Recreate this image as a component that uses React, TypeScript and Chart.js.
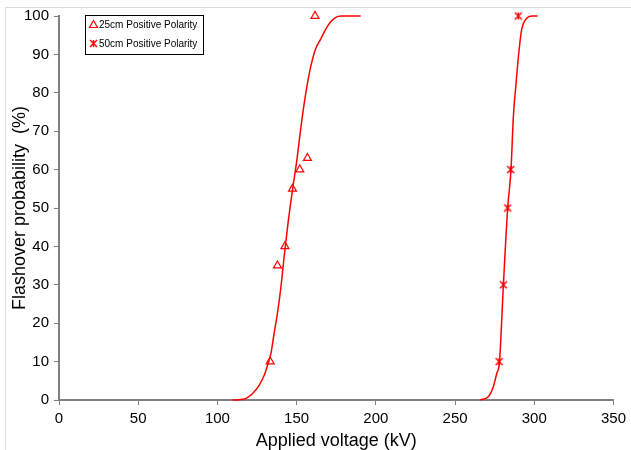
import React, { useEffect, useRef } from "react";
import { Chart, registerables } from "chart.js";

Chart.register(...registerables);

// ---- data ----
const xTicks = [0, 50, 100, 150, 200, 250, 300, 350];
const yTicks = [0, 10, 20, 30, 40, 50, 60, 70, 80, 90, 100];
const seriesNames = ["25cm Positive Polarity", "50cm Positive Polarity"];

// measured points
const v25 = [133.3, 137.9, 142.6, 147.4, 152.0, 156.8, 161.6];
const p25 = [10, 35, 40, 55, 60, 63, 100];
const v50 = [277.8, 280.5, 283.2, 285.1, 289.9];
const p50 = [10, 30, 50, 60, 100];

// fitted curves
const fit25V = [109.6, 117, 122.2, 126.4, 129.6, 131.7, 133.8, 135.8, 137.9, 140.1, 142.3, 144.7, 147.4, 150.3, 153, 156, 159, 162, 165.2, 168.4, 171.5, 174.5, 178, 190.4];
const fit25P = [0, 0.26, 1.7, 3.9, 6.5, 9.1, 12.2, 17.4, 22.6, 29.5, 38, 46.5, 54.7, 63, 72, 80.5, 87, 91.5, 94, 96.6, 98.5, 99.6, 100, 100];
const fit50V = [265.8, 271.1, 274.2, 276.3, 278, 280.5, 283.2, 285.3, 286.8, 288.5, 290.4, 292, 295.2, 298.3, 302.1];
const fit50P = [0, 0.9, 3.5, 6.9, 9.8, 29.9, 49.9, 59.9, 73.8, 82.5, 91.1, 96.4, 99.4, 100, 100];

const RED = "#ff0000";
const FONT = "'Liberation Sans', Arial, sans-serif";

function makeStar(size: number, color: string): HTMLCanvasElement {
  const c = document.createElement("canvas");
  c.width = size;
  c.height = size;
  const ctx = c.getContext("2d")!;
  ctx.strokeStyle = color;
  ctx.lineWidth = 1.4;
  const m = 1;
  ctx.beginPath();
  ctx.moveTo(m, m);
  ctx.lineTo(size - m, size - m);
  ctx.moveTo(size - m, m);
  ctx.lineTo(m, size - m);
  ctx.moveTo(size / 2, m);
  ctx.lineTo(size / 2, size - m);
  ctx.stroke();
  return c;
}

const pairs = (xs: number[], ys: number[]) => xs.map((x, i) => ({ x, y: ys[i] }));

export default function App() {
  const ref = useRef<HTMLCanvasElement | null>(null);

  useEffect(() => {
    if (!ref.current) return;
    const star = makeStar(9, RED);

    const framePlugin = {
      id: "frame",
      beforeDraw(chart: any) {
        const ctx = chart.ctx;
        ctx.save();
        ctx.strokeStyle = "#d9d9d9";
        ctx.lineWidth = 1;
        ctx.beginPath();
        ctx.moveTo(5.5, 460);
        ctx.lineTo(5.5, 7.5);
        ctx.lineTo(640, 7.5);
        ctx.stroke();
        ctx.restore();
      },
    };

    const legendPlugin = {
      id: "boxLegend",
      afterDraw(chart: any) {
        const ctx = chart.ctx;
        ctx.save();
        ctx.fillStyle = "#ffffff";
        ctx.fillRect(85, 15, 119, 40);
        ctx.strokeStyle = "#000000";
        ctx.lineWidth = 1;
        ctx.strokeRect(85.5, 15.5, 118, 39);
        // triangle marker
        ctx.strokeStyle = RED;
        ctx.lineWidth = 1.2;
        ctx.beginPath();
        ctx.moveTo(93.5, 20.5);
        ctx.lineTo(97.5, 27.5);
        ctx.lineTo(89.5, 27.5);
        ctx.closePath();
        ctx.stroke();
        ctx.drawImage(star, 89, 39);
        ctx.fillStyle = "#000000";
        ctx.font = `10px ${FONT}`;
        ctx.textBaseline = "middle";
        ctx.textAlign = "left";
        ctx.fillText(seriesNames[0], 99, 25);
        ctx.fillText(seriesNames[1], 99, 44);
        ctx.restore();
      },
    };

    const chart = new Chart(ref.current, {
      type: "scatter",
      data: {
        datasets: [
          {
            label: seriesNames[0] + " fit",
            data: pairs(fit25V, fit25P),
            showLine: true,
            borderColor: RED,
            borderWidth: 1.5,
            pointRadius: 0,
            cubicInterpolationMode: "monotone",
            fill: false,
            clip: false,
          },
          {
            label: seriesNames[1] + " fit",
            data: pairs(fit50V, fit50P),
            showLine: true,
            borderColor: RED,
            borderWidth: 1.5,
            pointRadius: 0,
            cubicInterpolationMode: "monotone",
            fill: false,
            clip: false,
          },
          {
            label: seriesNames[0],
            data: pairs(v25, p25),
            showLine: false,
            pointStyle: "triangle",
            pointRadius: 4.6,
            borderColor: RED,
            backgroundColor: "rgba(255,255,255,0)",
            borderWidth: 1.2,
            clip: false,
          },
          {
            label: seriesNames[1],
            data: pairs(v50, p50),
            showLine: false,
            pointStyle: star as any,
            pointRadius: 4.5,
            borderColor: RED,
            backgroundColor: RED,
            clip: false,
          },
        ],
      },
      options: {
        responsive: false,
        animation: false,
        devicePixelRatio: 1,
        layout: { padding: { top: 16, right: 16, left: 0, bottom: 0 } },
        plugins: {
          legend: { display: false },
          tooltip: { enabled: false },
        },
        scales: {
          x: {
            type: "linear",
            min: 0,
            max: 350,
            afterBuildTicks: (s: any) => {
              s.ticks = xTicks.map((v) => ({ value: v }));
            },
            afterFit: (s: any) => {
              s.height = 50;
            },
            grid: {
              drawOnChartArea: false,
              drawTicks: true,
              tickLength: 5,
              color: "#808080",
              lineWidth: 1,
            },
            border: { color: "#808080", width: 2 },
            ticks: {
              color: "#000000",
              font: { family: FONT, size: 15 },
              padding: 5,
              maxRotation: 0,
            },
            title: {
              display: true,
              text: "Applied voltage (kV)",
              color: "#000000",
              font: { family: FONT, size: 18, lineHeight: 1.0 },
              padding: 0,
            },
          },
          y: {
            type: "linear",
            min: 0,
            max: 100,
            afterBuildTicks: (s: any) => {
              s.ticks = yTicks.map((v) => ({ value: v }));
            },
            afterFit: (s: any) => {
              s.width = 59;
            },
            grid: {
              drawOnChartArea: false,
              drawTicks: true,
              tickLength: 5,
              color: "#808080",
              lineWidth: 1,
            },
            border: { color: "#808080", width: 2 },
            ticks: {
              color: "#000000",
              font: { family: FONT, size: 15 },
              padding: 5,
            },
            title: {
              display: true,
              text: "Flashover probability  (%)",
              color: "#000000",
              font: { family: FONT, size: 18 },
              padding: { top: 9, bottom: 0 },
            },
          },
        },
      },
      plugins: [framePlugin, legendPlugin],
    } as any);

    return () => chart.destroy();
  }, []);

  return (
    <div style={{ position: "absolute", left: 0, top: 0, width: 631, height: 450 }}>
      <canvas ref={ref} width={631} height={450} style={{ display: "block", width: 631, height: 450 }} />
    </div>
  );
}
